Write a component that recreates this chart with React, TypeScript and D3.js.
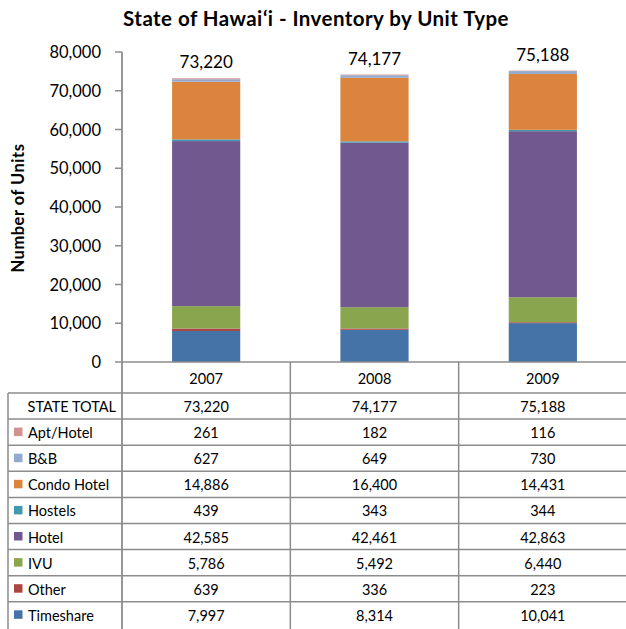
import React from "react";
import * as d3 from "d3";

const years = ["2007", "2008", "2009"];
const seriesNames = ["Timeshare", "Other", "IVU", "Hotel", "Hostels", "Condo Hotel", "B&B", "Apt/Hotel"];
const timeshare = [7997, 8314, 10041];
const other = [639, 336, 223];
const ivu = [5786, 5492, 6440];
const hotel = [42585, 42461, 42863];
const hostels = [439, 343, 344];
const condoHotel = [14886, 16400, 14431];
const bnb = [627, 649, 730];
const aptHotel = [261, 182, 116];
const stateTotal = [73220, 74177, 75188];
const yTicks = [0, 10000, 20000, 30000, 40000, 50000, 60000, 70000, 80000];
const colors = ["#4572A7", "#AA4643", "#89A54E", "#71588F", "#4198AF", "#DB843D", "#93A9CF", "#D19392"];

const seriesValues = [timeshare, other, ivu, hotel, hostels, condoHotel, bnb, aptHotel];
const tableOrder = ["Apt/Hotel", "B&B", "Condo Hotel", "Hostels", "Hotel", "IVU", "Other", "Timeshare"];

export default function App() {
  const W = 626, H = 629;
  const axisX = 122;
  const rightX = 626;
  const y0 = 362;
  const yTop = 52;
  const font = "Lato, 'Open Sans', sans-serif";
  const y = d3.scaleLinear().domain([0, 80000]).range([y0, yTop]);
  const x = d3.scaleBand().domain(years).range([axisX, 627]).paddingInner(0).paddingOuter(0);
  const barW = x.bandwidth() * 0.405;
  const rows = years.map((yr, i) => {
    const r: any = { year: yr };
    seriesNames.forEach((s, k) => (r[s] = seriesValues[k][i]));
    return r;
  });
  const stack = d3.stack().keys(seriesNames)(rows as any);
  const fmt = d3.format(",");
  const lineColor = "#8c8c8c";
  const catRowTop = y0;
  const totalRowTop = 393;
  const rowH = 26.1;
  const tableLeft = 8;

  return (
    <svg width={W} height={H} style={{ position: "absolute", left: 0, top: 0, background: "#fff" }} fontFamily={font}>
      <text x={316} y={26} textAnchor="middle" fontSize={20.5} fontWeight="bold" letterSpacing={0.45} fill="#000">
        State of Hawaiʻi - Inventory by Unit Type
      </text>
      <text transform={`translate(24,208) rotate(-90)`} textAnchor="middle" fontSize={16.5} fontWeight="bold" letterSpacing={0.5} fill="#000">
        Number of Units
      </text>
      {/* bars */}
      {stack.map((layer, k) => (
        <g key={seriesNames[k]} fill={colors[k]}>
          {layer.map((d, i) => (
            <rect
              key={i}
              x={(x(years[i]) as number) + (x.bandwidth() - barW) / 2}
              y={y(d[1])}
              width={barW}
              height={y(d[0]) - y(d[1])}
            />
          ))}
        </g>
      ))}
      {/* total labels */}
      {years.map((yr, i) => (
        <text key={yr} x={(x(yr) as number) + x.bandwidth() / 2} y={y(stateTotal[i]) - 10} textAnchor="middle" fontSize={17} fill="#000">
          {fmt(stateTotal[i])}
        </text>
      ))}
      {/* y axis */}
      <line x1={axisX} x2={axisX} y1={yTop} y2={H} stroke={lineColor} strokeWidth={1.8} />
      {yTicks.map((t) => (
        <g key={t}>
          <line x1={axisX - 7} x2={axisX} y1={y(t)} y2={y(t)} stroke={lineColor} strokeWidth={1.5} />
          <text x={101} y={y(t) + 6} textAnchor="end" fontSize={16.5} fill="#000">
            {fmt(t)}
          </text>
        </g>
      ))}
      {/* table */}
      <line x1={axisX} x2={rightX} y1={catRowTop} y2={catRowTop} stroke={lineColor} strokeWidth={1.5} />
      {years.map((yr) => (
        <g key={yr}>
          <line x1={(x(yr) as number) + x.bandwidth()} x2={(x(yr) as number) + x.bandwidth()} y1={catRowTop} y2={H} stroke={lineColor} strokeWidth={1.5} />
          <text x={(x(yr) as number) + x.bandwidth() / 2} y={384} textAnchor="middle" fontSize={14.5} fill="#000">
            {yr}
          </text>
        </g>
      ))}
      <line x1={tableLeft} x2={tableLeft} y1={totalRowTop} y2={H} stroke={lineColor} strokeWidth={1.5} />
      {["STATE TOTAL", ...tableOrder].map((name, r) => {
        const top = totalRowTop + r * rowH;
        const k = seriesNames.indexOf(name);
        const vals = k >= 0 ? seriesValues[k] : stateTotal;
        return (
          <g key={name}>
            <line x1={tableLeft} x2={rightX} y1={top} y2={top} stroke={lineColor} strokeWidth={1.5} />
            {k >= 0 && <rect x={14} y={top + 8.5} width={8.5} height={8.5} fill={colors[k]} />}
            <text x={k >= 0 ? 28 : 116} y={top + 19} textAnchor={k >= 0 ? "start" : "end"} fontSize={14.5} fill="#000">
              {name}
            </text>
            {years.map((yr, i) => (
              <text key={yr} x={(x(yr) as number) + x.bandwidth() / 2} y={top + 19} textAnchor="middle" fontSize={14.5} fill="#000">
                {fmt(vals[i])}
              </text>
            ))}
          </g>
        );
      })}
    </svg>
  );
}
